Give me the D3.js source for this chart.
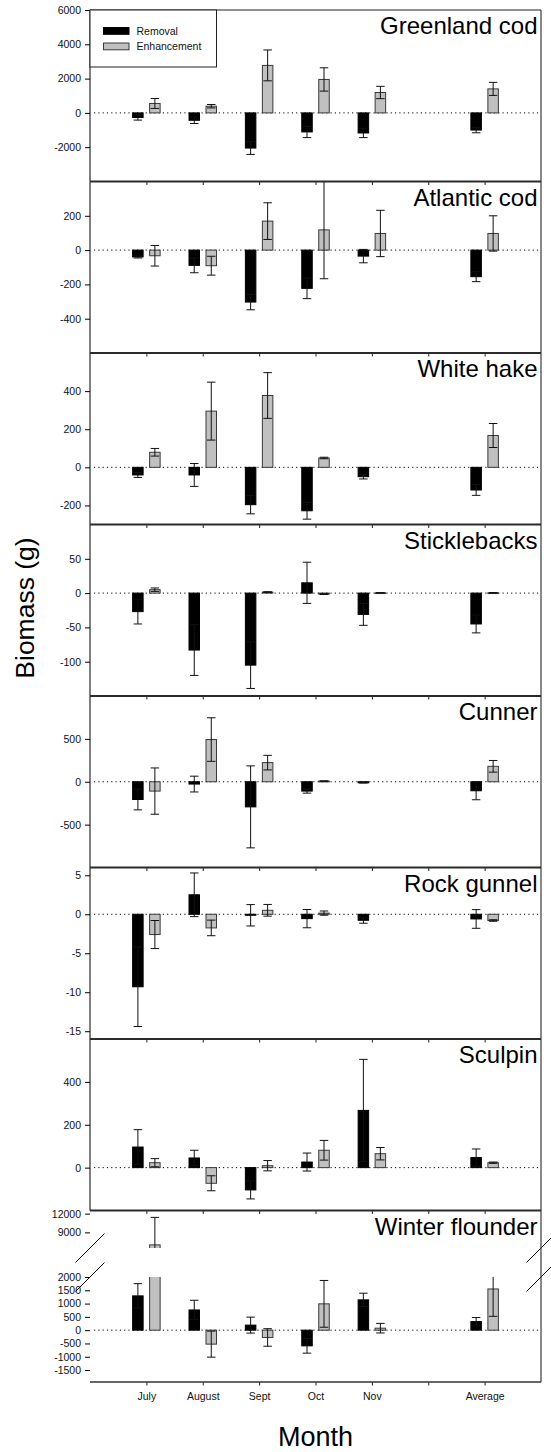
<!DOCTYPE html>
<html>
<head>
<meta charset="utf-8">
<script src="https://cdn.jsdelivr.net/npm/d3@7"></script>
<style>
  html, body { margin: 0; padding: 0; background: #fff; }
  text { font-family: "Liberation Sans", Arial, sans-serif; }
</style>
</head>
<body>
<script>
// ── Data ─────────────────────────────────────────────────────────────
const months = ['July', 'August', 'Sept', 'Oct', 'Nov', '', 'Average'];
const barMonths = ['July', 'August', 'Sept', 'Oct', 'Nov', 'Average'];

const species = ['Greenland cod', 'Atlantic cod', 'White hake', 'Sticklebacks',
  'Cunner', 'Rock gunnel', 'Sculpin', 'Winter flounder'];

// mean and standard error, one row per species, columns follow barMonths
const removalMean = [
  [-270, -430, -2050, -1110, -1170, -1000],
  [-40, -89, -303, -223, -35, -155],
  [-40, -40, -196, -228, -49, -119],
  [-27, -83, -105, 15, -31, -45],
  [-207, -27, -293, -109, -12, -105],
  [-9.3, 2.5, -0.13, -0.56, -0.77, -0.6],
  [96, 45, -104, 26, 267, 47],
  [1290, 760, 190, -590, 1140, 325],
];
const removalSE = [
  [150, 190, 370, 330, 270, 160],
  [6, 43, 45, 60, 39, 29],
  [13, 60, 48, 44, 12, 28],
  [18, 37, 34, 30, 16, 13],
  [121, 92, 478, 24, 3, 105],
  [5.1, 2.8, 1.37, 1.17, 0.38, 1.2],
  [81, 36, 42, 42, 238, 40],
  [460, 365, 300, 275, 250, 150],
];
const enhanceMean = [
  [550, 390, 2770, 1950, 1190, 1400],
  [-33, -91, 169, 118, 97, 97],
  [79, 295, 377, 49, 0, 167],
  [5, 0, 1.5, -1.5, 0.5, 0.5],
  [-109, 492, 223, 8, 0, 180],
  [-2.6, -1.75, 0.51, 0.15, 0, -0.8],
  [23, -73, 9, 81, 65, 23],
  [7000, -525, -275, 990, 75, 1550],
];
const enhanceSE = [
  [290, 100, 900, 680, 360, 380],
  [60, 55, 107, 285, 135, 103],
  [20, 152, 120, 4, 0, 63],
  [2.5, 0, 0.5, 0.5, 0.3, 0.3],
  [270, 254, 85, 2, 0, 68],
  [1.8, 1.0, 0.75, 0.27, 0, 0.1],
  [19, 35, 24, 46, 29, 3],
  [4400, 490, 330, 880, 180, 1030],
];

// y axis per panel (last one is the broken axis, see below)
const yDomains = [
  [-4000, 6000], [-600, 400], [-300, 600], [-150, 100],
  [-1000, 1000], [-16, 6], [-200, 600],
];
const yTicks = [
  [-2000, 0, 2000, 4000, 6000],
  [-400, -200, 0, 200],
  [-200, 0, 200, 400],
  [-100, -50, 0, 50],
  [-500, 0, 500],
  [-15, -10, -5, 0, 5],
  [0, 200, 400],
];
const flounderUpperDomain = [6500, 12500];
const flounderUpperTicks = [9000, 12000];
const flounderLowerDomain = [-1950, 2000];
const flounderLowerTicks = [-1500, -1000, -500, 0, 500, 1000, 1500, 2000];

// ── Layout ───────────────────────────────────────────────────────────
const W = 551, H = 1452;
const plotL = 90, plotR = 541, plotT = 10, panelH = 171.5;
const upperH = 37.5, gapH = 29;
const barW = 10.5, barOff = 8.5, capW = 8.5;
const FONT = '"Liberation Sans", Arial, sans-serif';
const nPanels = species.length;

const svg = d3.select('body').append('svg')
  .attr('width', W).attr('height', H);

const x = d3.scalePoint().domain(months).range([plotL, plotR]).padding(1);

const series = [
  { mean: removalMean, se: removalSE, off: -barOff, fill: '#000', stroke: '#000' },
  { mean: enhanceMean, se: enhanceSE, off: barOff, fill: '#c0c0c0', stroke: '#3a3a3a' },
];

// ── Drawing helpers ──────────────────────────────────────────────────
function addClip(id, y0, y1) {
  svg.append('clipPath').attr('id', id)
    .append('rect')
    .attr('x', plotL).attr('y', y0)
    .attr('width', plotR - plotL).attr('height', y1 - y0);
}

function zeroLine(g, y) {
  g.append('line')
    .attr('x1', plotL + 4).attr('x2', plotR)
    .attr('y1', y(0)).attr('y2', y(0))
    .attr('stroke', '#000').attr('stroke-width', 1)
    .attr('stroke-dasharray', '1.2,3.1');
}

function drawBars(g, y, si) {
  series.forEach(s => {
    const rows = barMonths.map((m, j) => ({ m, v: s.mean[si][j], e: s.se[si][j] }))
      .filter(d => d.v !== 0 || d.e !== 0);

    g.append('g').selectAll('rect')
      .data(rows.filter(d => d.v !== 0))
      .join('rect')
      .attr('x', d => x(d.m) + s.off - barW / 2)
      .attr('y', d => Math.min(y(d.v), y(0)))
      .attr('width', barW)
      .attr('height', d => Math.max(0.8, Math.abs(y(d.v) - y(0))))
      .attr('fill', s.fill)
      .attr('stroke', s.stroke)
      .attr('stroke-width', 1);

    const err = g.append('g').selectAll('g')
      .data(rows.filter(d => d.e > 0))
      .join('g')
      .attr('stroke', '#111')
      .attr('stroke-width', 1);
    err.append('line')
      .attr('x1', d => x(d.m) + s.off).attr('x2', d => x(d.m) + s.off)
      .attr('y1', d => y(d.v - d.e)).attr('y2', d => y(d.v + d.e));
    [-1, 1].forEach(sign => {
      err.append('line')
        .attr('x1', d => x(d.m) + s.off - capW / 2)
        .attr('x2', d => x(d.m) + s.off + capW / 2)
        .attr('y1', d => y(d.v + sign * d.e))
        .attr('y2', d => y(d.v + sign * d.e));
    });
  });
}

function yAxis(y, ticks) {
  const ax = svg.append('g')
    .attr('transform', `translate(${plotL},0)`)
    .call(d3.axisLeft(y).tickValues(ticks).tickSize(5).tickPadding(4)
      .tickFormat(d => String(d)));
  ax.select('.domain').remove();
  ax.selectAll('line').attr('stroke', '#000');
  ax.selectAll('text')
    .attr('font-family', FONT).attr('font-size', 10.5).attr('fill', '#111');
  return ax;
}

function xAxis(y0, labels) {
  const ax = svg.append('g')
    .attr('transform', `translate(0,${y0})`)
    .call(d3.axisBottom(x).tickSize(3.5).tickPadding(7.5)
      .tickFormat(labels ? d => d : ''));
  ax.select('.domain').remove();
  ax.selectAll('line').attr('stroke', '#222');
  ax.selectAll('text')
    .attr('font-family', FONT).attr('font-size', 10.5).attr('fill', '#111');
}

function title(name, y0) {
  svg.append('text')
    .attr('x', plotR - 3.5).attr('y', y0 + 24)
    .attr('text-anchor', 'end')
    .attr('font-family', FONT).attr('font-size', 24)
    .attr('fill', '#000')
    .text(name);
}

// ── Regular panels ───────────────────────────────────────────────────
yDomains.forEach((dom, i) => {
  const y0 = plotT + i * panelH, y1 = y0 + panelH;
  const y = d3.scaleLinear().domain(dom).range([y1, y0]);
  addClip(`clip${i}`, y0, y1);
  const g = svg.append('g').attr('clip-path', `url(#clip${i})`);
  zeroLine(g, y);
  drawBars(g, y, i);
  yAxis(y, yTicks[i]);
  xAxis(y1, false);
  // left spine
  svg.append('line')
    .attr('x1', plotL).attr('x2', plotL).attr('y1', y0).attr('y2', y1)
    .attr('stroke', '#000').attr('stroke-width', 1);
  title(species[i], y0);
});

// ── Winter flounder, broken axis ─────────────────────────────────────
{
  const i = 7;
  const y0 = plotT + i * panelH, y1 = y0 + panelH;
  const upperBottom = y0 + upperH, lowerTop = upperBottom + gapH;
  const yUp = d3.scaleLinear().domain(flounderUpperDomain).range([upperBottom, y0]);
  const yLo = d3.scaleLinear().domain(flounderLowerDomain).range([y1, lowerTop]);

  addClip('clipUp', y0, upperBottom);
  addClip('clipLo', lowerTop, y1);
  const gUp = svg.append('g').attr('clip-path', 'url(#clipUp)');
  const gLo = svg.append('g').attr('clip-path', 'url(#clipLo)');
  zeroLine(gLo, yLo);
  drawBars(gLo, yLo, i);
  drawBars(gUp, yUp, i);
  yAxis(yUp, flounderUpperTicks);
  yAxis(yLo, flounderLowerTicks);
  xAxis(y1, true);

  // break marks
  const bk = 14.5;
  [plotL, plotR].forEach(cx => {
    [upperBottom, lowerTop].forEach(cy => {
      svg.append('line')
        .attr('x1', cx - bk).attr('y1', cy + bk)
        .attr('x2', cx + bk).attr('y2', cy - bk)
        .attr('stroke', '#000').attr('stroke-width', 1);
    });
  });
  title(species[i], y0);
}

// ── Frame: outer border and panel separators ────────────────────────
const yBottom = plotT + nPanels * panelH;
svg.append('line')
  .attr('x1', plotL).attr('x2', plotR).attr('y1', plotT).attr('y2', plotT)
  .attr('stroke', '#222').attr('stroke-width', 1.2);
svg.append('line')
  .attr('x1', plotR).attr('x2', plotR).attr('y1', plotT).attr('y2', yBottom)
  .attr('stroke', '#3a3a3a').attr('stroke-width', 1.2);
svg.append('g').selectAll('line')
  .data(d3.range(1, nPanels))
  .join('line')
  .attr('x1', plotL).attr('x2', plotR)
  .attr('y1', k => plotT + k * panelH).attr('y2', k => plotT + k * panelH)
  .attr('stroke', '#2b2b2b').attr('stroke-width', 1.9);
svg.append('line')
  .attr('x1', plotL).attr('x2', plotR).attr('y1', yBottom).attr('y2', yBottom)
  .attr('stroke', '#333').attr('stroke-width', 1.3);

// ── Legend ───────────────────────────────────────────────────────────
const legend = svg.append('g');
legend.append('rect')
  .attr('x', plotL).attr('y', plotT)
  .attr('width', 126.5).attr('height', 57)
  .attr('fill', '#fff').attr('stroke', '#222').attr('stroke-width', 1);
[['Removal', '#000', '#000'], ['Enhancement', '#c0c0c0', '#3a3a3a']].forEach(([name, fill, stroke], k) => {
  legend.append('rect')
    .attr('x', plotL + 13.5).attr('y', plotT + 17.5 + k * 15.5)
    .attr('width', 25.5).attr('height', 6.8)
    .attr('fill', fill).attr('stroke', stroke).attr('stroke-width', 1);
  legend.append('text')
    .attr('x', plotL + 46.5).attr('y', plotT + 24.5 + k * 15.5)
    .attr('font-family', FONT).attr('font-size', 10.5).attr('fill', '#111')
    .text(name);
});

// ── Axis titles ──────────────────────────────────────────────────────
svg.append('text')
  .attr('transform', 'translate(33.5,608) rotate(-90)')
  .attr('text-anchor', 'middle')
  .attr('font-family', FONT).attr('font-size', 26.5)
  .text('Biomass (g)');

svg.append('text')
  .attr('x', (plotL + plotR) / 2).attr('y', 1446)
  .attr('text-anchor', 'middle')
  .attr('font-family', FONT).attr('font-size', 27)
  .text('Month');
</script>
</body>
</html>
